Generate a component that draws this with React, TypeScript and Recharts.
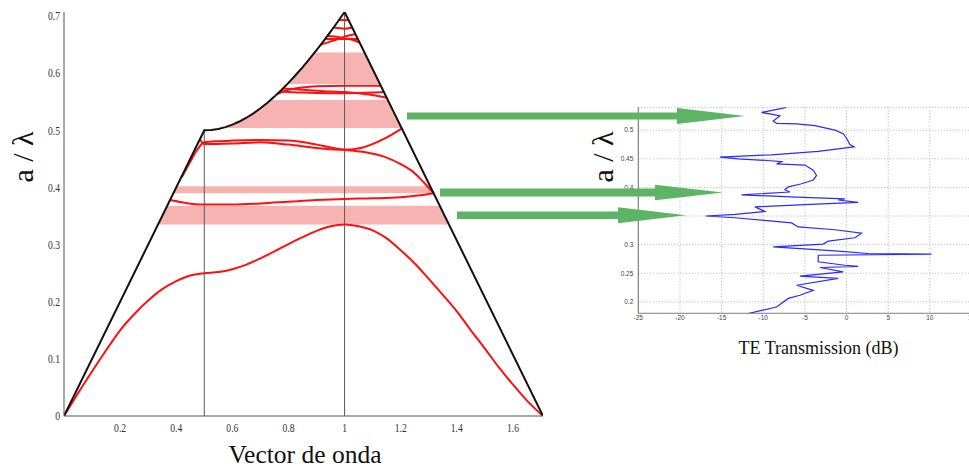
import React from 'react';
import { ComposedChart, Line, Area, Scatter, XAxis, YAxis, CartesianGrid } from 'recharts';

// ---------- Band diagram (left) ----------
const kTicks = [0.2, 0.4, 0.6, 0.8, 1, 1.2, 1.4, 1.6];
const freqTicks = [0, 0.1, 0.2, 0.3, 0.4, 0.5, 0.6, 0.7];

// Light line along Γ–X–M–Γ
const lightLine = [
  { x: 0, y: 0 }, { x: 0.5, y: 0.5 },
  { x: 0.525, y: 0.50062 }, { x: 0.55, y: 0.50249 }, { x: 0.575, y: 0.50559 }, { x: 0.6, y: 0.5099 },
  { x: 0.625, y: 0.51539 }, { x: 0.65, y: 0.52202 }, { x: 0.675, y: 0.52974 }, { x: 0.7, y: 0.53852 },
  { x: 0.725, y: 0.54829 }, { x: 0.75, y: 0.55902 }, { x: 0.775, y: 0.57064 }, { x: 0.8, y: 0.5831 },
  { x: 0.825, y: 0.59634 }, { x: 0.85, y: 0.61033 }, { x: 0.875, y: 0.625 }, { x: 0.9, y: 0.64031 },
  { x: 0.925, y: 0.65622 }, { x: 0.95, y: 0.67268 }, { x: 0.975, y: 0.68966 }, { x: 1, y: 0.70711 },
  { x: 1.7071, y: 0 },
];

const symmetryX = [
  { x: 0.5, y: 0 }, { x: 0.5, y: 0.5 },
];
const symmetryM = [
  { x: 1, y: 0 }, { x: 1, y: 0.7071 },
];

// Shaded frequency ranges (inside the light cone)
const shadeLow = [
  { x: 0.335, r: [0.335, 0.335] }, { x: 0.368, r: [0.335, 0.368] },
  { x: 1.339, r: [0.335, 0.368] }, { x: 1.372, r: [0.335, 0.335] },
];
const shadeMid = [
  { x: 0.39, r: [0.39, 0.39] }, { x: 0.402, r: [0.39, 0.402] },
  { x: 1.305, r: [0.39, 0.402] }, { x: 1.317, r: [0.39, 0.39] },
];
const shadeHigh = [
  { x: 0.563, r: [0.504, 0.504] }, { x: 0.575, r: [0.504, 0.50559] }, { x: 0.6, r: [0.504, 0.5099] },
  { x: 0.625, r: [0.504, 0.51539] }, { x: 0.65, r: [0.504, 0.52202] }, { x: 0.675, r: [0.504, 0.52974] },
  { x: 0.7, r: [0.504, 0.53852] }, { x: 0.725, r: [0.504, 0.54829] }, { x: 0.736, r: [0.504, 0.553] },
  { x: 1.154, r: [0.504, 0.553] }, { x: 1.203, r: [0.504, 0.504] },
];
const shadeTop = [
  { x: 0.796, r: [0.581, 0.581] }, { x: 0.825, r: [0.581, 0.59634] }, { x: 0.85, r: [0.581, 0.61033] },
  { x: 0.875, r: [0.581, 0.625] }, { x: 0.893, r: [0.581, 0.636] },
  { x: 1.071, r: [0.581, 0.636] }, { x: 1.126, r: [0.581, 0.581] },
];
const shades = [shadeLow, shadeMid, shadeHigh, shadeTop];

const band1 = [
  { x: 0, y: 0 }, { x: 0.05, y: 0.04 }, { x: 0.1, y: 0.078 }, { x: 0.15, y: 0.115 }, { x: 0.2, y: 0.15 },
  { x: 0.25, y: 0.178 }, { x: 0.3, y: 0.202 }, { x: 0.35, y: 0.222 }, { x: 0.4, y: 0.236 }, { x: 0.45, y: 0.246 },
  { x: 0.5, y: 0.25 }, { x: 0.55, y: 0.252 }, { x: 0.6, y: 0.257 }, { x: 0.65, y: 0.265 }, { x: 0.7, y: 0.276 },
  { x: 0.75, y: 0.288 }, { x: 0.8, y: 0.301 }, { x: 0.85, y: 0.313 }, { x: 0.9, y: 0.324 }, { x: 0.95, y: 0.332 },
  { x: 1, y: 0.335 }, { x: 1.05, y: 0.332 }, { x: 1.1, y: 0.325 }, { x: 1.15, y: 0.311 }, { x: 1.2, y: 0.29 },
  { x: 1.25, y: 0.267 }, { x: 1.3, y: 0.24 }, { x: 1.35, y: 0.212 }, { x: 1.4, y: 0.183 }, { x: 1.45, y: 0.15 },
  { x: 1.5, y: 0.118 }, { x: 1.55, y: 0.085 }, { x: 1.6, y: 0.055 }, { x: 1.65, y: 0.027 }, { x: 1.7071, y: 0 },
];
const band2 = [
  { x: 0.378, y: 0.378 }, { x: 0.42, y: 0.374 }, { x: 0.46, y: 0.371 }, { x: 0.5, y: 0.37 }, { x: 0.6, y: 0.37 },
  { x: 0.7, y: 0.372 }, { x: 0.8, y: 0.375 }, { x: 0.9, y: 0.378 }, { x: 1, y: 0.38 }, { x: 1.1, y: 0.381 },
  { x: 1.2, y: 0.383 }, { x: 1.26, y: 0.386 }, { x: 1.317, y: 0.39 },
];
const band3 = [
  { x: 0.42, y: 0.418 }, { x: 0.45, y: 0.445 }, { x: 0.475, y: 0.466 }, { x: 0.5, y: 0.479 }, { x: 0.55, y: 0.481 },
  { x: 0.6, y: 0.482 }, { x: 0.7, y: 0.483 }, { x: 0.8, y: 0.482 }, { x: 0.9, y: 0.475 }, { x: 0.95, y: 0.47 },
  { x: 1, y: 0.466 }, { x: 1.07, y: 0.462 }, { x: 1.14, y: 0.454 }, { x: 1.2, y: 0.441 }, { x: 1.24, y: 0.429 },
  { x: 1.28, y: 0.41 }, { x: 1.317, y: 0.39 },
];
const band4 = [
  { x: 0.485, y: 0.484 }, { x: 0.5, y: 0.476 }, { x: 0.6, y: 0.477 }, { x: 0.7, y: 0.479 }, { x: 0.8, y: 0.475 },
  { x: 0.9, y: 0.469 }, { x: 0.95, y: 0.467 }, { x: 1, y: 0.466 }, { x: 1.065, y: 0.47 }, { x: 1.14, y: 0.485 },
  { x: 1.206, y: 0.504 },
];
const band5 = [
  { x: 0.76, y: 0.5636 }, { x: 0.8, y: 0.571 }, { x: 0.85, y: 0.575 }, { x: 0.9, y: 0.577 }, { x: 1, y: 0.578 },
  { x: 1.1, y: 0.578 }, { x: 1.129, y: 0.578 },
];
const band6 = [
  { x: 0.78, y: 0.573 }, { x: 0.85, y: 0.571 }, { x: 0.95, y: 0.568 }, { x: 1, y: 0.567 }, { x: 1.08, y: 0.563 },
  { x: 1.15, y: 0.557 },
];
const band7 = [
  { x: 0.77, y: 0.568 }, { x: 0.85, y: 0.566 }, { x: 0.95, y: 0.565 }, { x: 1, y: 0.565 }, { x: 1.1, y: 0.566 },
  { x: 1.14, y: 0.567 },
];
const band8 = [
  { x: 0.915, y: 0.65 }, { x: 0.96, y: 0.657 }, { x: 1, y: 0.664 }, { x: 1.039, y: 0.668 },
];
const band9 = [
  { x: 0.938, y: 0.665 }, { x: 0.98, y: 0.663 }, { x: 1, y: 0.661 }, { x: 1.03, y: 0.658 }, { x: 1.054, y: 0.653 },
];
const band10 = [
  { x: 0.93, y: 0.66 }, { x: 1, y: 0.66 }, { x: 1.047, y: 0.66 },
];
const band11 = [
  { x: 0.961, y: 0.68 }, { x: 1, y: 0.678 }, { x: 1.027, y: 0.68 },
];
const band12 = [
  { x: 0.98, y: 0.693 }, { x: 1, y: 0.693 }, { x: 1.014, y: 0.693 },
];
const bands = [band1, band2, band3, band4, band5, band6, band7, band8, band9, band10, band11, band12];

// ---------- Transmission spectrum (right) ----------
const dbTicks = [-25, -20, -15, -10, -5, 0, 5, 10, 15];
const tFreqTicks = [0.2, 0.25, 0.3, 0.35, 0.4, 0.45, 0.5];
const transmission = [
  { t: -7.2, f: 0.54 }, { t: -8.5, f: 0.536 }, { t: -10.2, f: 0.531 }, { t: -9.0, f: 0.528 }, { t: -8.0, f: 0.525 },
  { t: -8.8, f: 0.516 }, { t: -8.4, f: 0.512 }, { t: -6.0, f: 0.511 }, { t: -3.8, f: 0.508 }, { t: -1.4, f: 0.5 },
  { t: -0.4, f: 0.494 }, { t: 0.0, f: 0.486 }, { t: 0.4, f: 0.475 }, { t: 0.9, f: 0.471 }, { t: -3.4, f: 0.463 },
  { t: -9.0, f: 0.457 }, { t: -15.2, f: 0.453 }, { t: -13.0, f: 0.45 }, { t: -9.5, f: 0.447 }, { t: -7.8, f: 0.445 },
  { t: -8.4, f: 0.441 }, { t: -5.0, f: 0.439 }, { t: -4.0, f: 0.43 }, { t: -3.6, f: 0.421 }, { t: -4.0, f: 0.413 },
  { t: -5.5, f: 0.406 }, { t: -7.0, f: 0.401 }, { t: -7.4, f: 0.396 }, { t: -6.8, f: 0.392 }, { t: -12.6, f: 0.387 },
  { t: -6.0, f: 0.383 }, { t: -0.2, f: 0.38 }, { t: -1.0, f: 0.378 }, { t: 1.4, f: 0.374 }, { t: -5.0, f: 0.37 },
  { t: -11.0, f: 0.366 }, { t: -9.8, f: 0.358 }, { t: -13.4, f: 0.353 }, { t: -16.9, f: 0.35 }, { t: -13.4, f: 0.347 },
  { t: -6.6, f: 0.338 }, { t: -5.8, f: 0.331 }, { t: -1.4, f: 0.326 }, { t: 1.8, f: 0.32 }, { t: 1.0, f: 0.312 },
  { t: -2.2, f: 0.306 }, { t: -2.8, f: 0.301 }, { t: -8.8, f: 0.296 }, { t: -1.4, f: 0.289 }, { t: 2.6, f: 0.2845 },
  { t: 10.2, f: 0.2835 }, { t: -3.4, f: 0.2815 }, { t: -3.4, f: 0.27 }, { t: -0.2, f: 0.264 }, { t: 1.4, f: 0.262 },
  { t: -3.2, f: 0.26 }, { t: -0.4, f: 0.2525 }, { t: -5.6, f: 0.245 }, { t: -1.0, f: 0.241 }, { t: -6.0, f: 0.229 },
  { t: -4.0, f: 0.22 }, { t: -5.6, f: 0.2115 }, { t: -7.0, f: 0.206 }, { t: -8.4, f: 0.191 }, { t: -10.2, f: 0.185 },
  { t: -11.8, f: 0.1795 },
];

// Annotation arrows linking the two panels
const arrows = [
  { x0: 407, base: 677, tip: 745, y: 116, shaft: 6.8, head: 16 },
  { x0: 440, base: 655, tip: 723, y: 192.5, shaft: 8, head: 15.5 },
  { x0: 457, base: 618, tip: 686, y: 215.3, shaft: 7.4, head: 16 },
];

const SERIF = '"Liberation Serif", "Times New Roman", serif';
const SANS = '"Liberation Sans", Arial, sans-serif';

function CondensedTick(props: any) {
  const { x, y, payload, anchor, dy } = props;
  return (
    <text
      x={x}
      y={y}
      dy={dy}
      textAnchor={anchor}
      fontFamily={SERIF}
      fontSize={12}
      fill="#333"
      transform={`translate(${x} ${y}) scale(0.8 1) translate(${-x} ${-y})`}
    >
      {String(payload.value)}
    </text>
  );
}

function SmallTick(props: any) {
  const { x, y, payload, anchor, dy } = props;
  return (
    <text x={x} y={y} dy={dy} textAnchor={anchor} fontFamily={SANS} fontSize={6.5} fill="#444">
      {String(payload.value)}
    </text>
  );
}

// Axis title placed at a fixed spot in the chart's own SVG
function Title(props: any) {
  const { px, py, size, turn, caption } = props;
  return (
    <text
      transform={`translate(${px} ${py})${turn ? ' rotate(-90)' : ''}`}
      textAnchor="middle"
      fontFamily={SERIF}
      fontSize={size}
      fill="#111"
    >
      {caption}
    </text>
  );
}

const Empty = () => <g />;

function BandChart() {
  return (
    <ComposedChart width={560} height={471} margin={{ top: 12, left: 34, right: 17, bottom: 0 }}>
      <XAxis
        type="number"
        dataKey="x"
        domain={[0, 1.7071]}
        ticks={kTicks}
        allowDataOverflow
        height={55}
        axisLine={{ stroke: '#555' }}
        tickLine={false}
        tickSize={0}
        tickMargin={7.5}
        tick={<CondensedTick anchor="middle" dy="0.71em" />}
        label={<Title px={305} py={463} size={25.5} caption="Vector de onda" />}
      />
      <XAxis
        xAxisId="top"
        type="number"
        dataKey="x"
        orientation="top"
        mirror
        domain={[0, 1.7071]}
        ticks={kTicks}
        allowDataOverflow
        height={0}
        tick={false}
        tickSize={5}
        axisLine={{ stroke: '#8f6868' }}
        tickLine={{ stroke: '#9a7070' }}
      />
      <YAxis
        type="number"
        dataKey="y"
        domain={[0, 0.7071]}
        ticks={freqTicks}
        allowDataOverflow
        width={30}
        axisLine={{ stroke: '#555' }}
        tickLine={false}
        tickSize={0}
        tickMargin={4}
        tick={<CondensedTick anchor="end" dy="0.35em" />}
        label={<Title px={33} py={157} size={30} turn caption="a / λ" />}
      />
      <YAxis
        yAxisId="right"
        type="number"
        dataKey="y"
        orientation="right"
        mirror
        domain={[0, 0.7071]}
        ticks={freqTicks}
        allowDataOverflow
        width={0}
        tick={false}
        tickSize={5}
        axisLine={{ stroke: '#c8c8c8' }}
        tickLine={{ stroke: '#a0a0a0' }}
      />
      {shades.map((s, i) => (
        <Area
          key={`shade-${i}`}
          data={s}
          dataKey="r"
          type="linear"
          stroke="none"
          fill="#f7b2b2"
          fillOpacity={1}
          isAnimationActive={false}
          dot={false}
          activeDot={false}
        />
      ))}
      <Line data={symmetryX} dataKey="y" type="linear" stroke="#5a5a5a" strokeWidth={1} dot={false} activeDot={false} isAnimationActive={false} />
      <Line data={symmetryM} dataKey="y" type="linear" stroke="#5a5a5a" strokeWidth={1} dot={false} activeDot={false} isAnimationActive={false} />
      {bands.map((b, i) => (
        <Line
          key={`band-${i}`}
          data={b}
          dataKey="y"
          type="monotone"
          stroke="#ff1010"
          strokeWidth={2}
          dot={false}
          activeDot={false}
          isAnimationActive={false}
        />
      ))}
      <Line data={lightLine} dataKey="y" type="linear" stroke="#111" strokeWidth={2} dot={false} activeDot={false} isAnimationActive={false} />
    </ComposedChart>
  );
}

function TransmissionChart() {
  return (
    <ComposedChart width={420} height={471} margin={{ top: 107.3, left: 38.3, right: 8.5, bottom: 137.7 }}>
      <CartesianGrid stroke="#b0b0b0" strokeDasharray="1 2" />
      <XAxis
        type="number"
        dataKey="t"
        domain={[-25, 15]}
        ticks={dbTicks}
        allowDataOverflow
        height={20}
        axisLine={{ stroke: '#888' }}
        tickLine={false}
        tickSize={0}
        tickMargin={2.5}
        tick={<SmallTick anchor="middle" dy="0.71em" />}
        label={<Title px={258.5} py={354} size={18} caption="TE Transmission (dB)" />}
      />
      <XAxis
        xAxisId="top"
        type="number"
        dataKey="t"
        orientation="top"
        mirror
        domain={[-25, 15]}
        ticks={dbTicks}
        height={0}
        tick={false}
        tickLine={false}
        axisLine={{ stroke: '#b0b0b0', strokeWidth: 2 }}
      />
      <YAxis
        type="number"
        dataKey="f"
        domain={[0.18, 0.54]}
        ticks={tFreqTicks}
        allowDataOverflow
        width={40}
        axisLine={{ stroke: '#707070' }}
        tickLine={false}
        tickSize={0}
        tickMargin={5}
        tick={<SmallTick anchor="end" dy="0.35em" />}
        label={<Title px={53} py={157} size={30} turn caption="a / λ" />}
      />
      <Scatter
        data={transmission}
        shape={<Empty />}
        line={{ stroke: '#2a2aff', strokeWidth: 1.2 }}
        lineJointType="linear"
        isAnimationActive={false}
      />
    </ComposedChart>
  );
}

export default function App() {
  return (
    <div style={{ position: 'absolute', left: 0, top: 0, width: 969, height: 471, overflow: 'hidden', background: '#fff' }}>
      <div style={{ position: 'absolute', left: 0, top: 0 }}>
        <BandChart />
      </div>
      <div style={{ position: 'absolute', left: 560, top: 0 }}>
        <TransmissionChart />
      </div>
      <svg style={{ position: 'absolute', left: 0, top: 0 }} width={969} height={471}>
        {arrows.map((a, i) => (
          <polygon
            key={i}
            fill="#5cb464"
            points={[
              [a.x0, a.y - a.shaft / 2],
              [a.base, a.y - a.shaft / 2],
              [a.base, a.y - a.head / 2],
              [a.tip, a.y],
              [a.base, a.y + a.head / 2],
              [a.base, a.y + a.shaft / 2],
              [a.x0, a.y + a.shaft / 2],
            ].map((p) => p.join(',')).join(' ')}
          />
        ))}
      </svg>
    </div>
  );
}
